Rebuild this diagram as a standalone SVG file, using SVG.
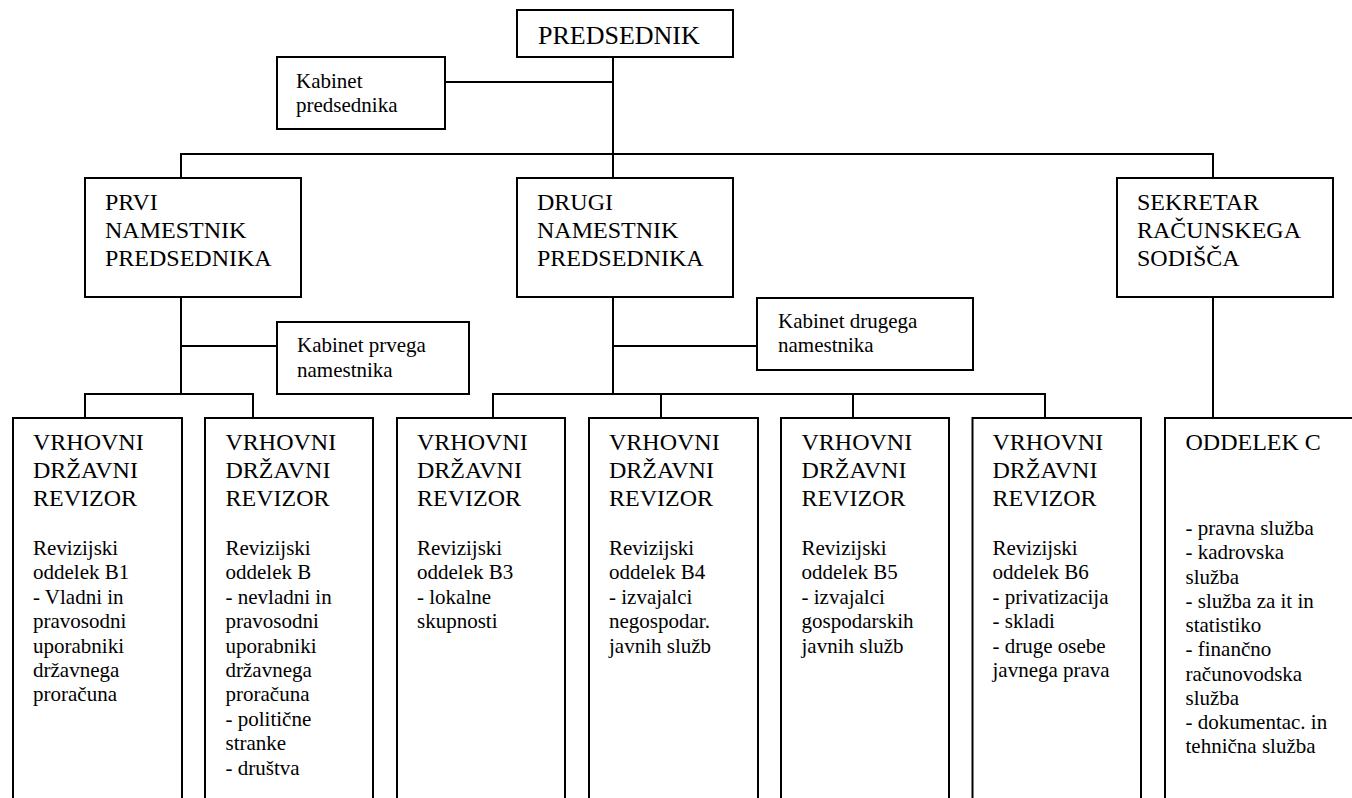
<svg xmlns="http://www.w3.org/2000/svg" width="1352" height="798" viewBox="0 0 1352 798">
<style>
.box{fill:#fff;stroke:#000;stroke-width:2}
.ln{fill:none;stroke:#000;stroke-width:2}
.big{font-size:24px;fill:#000}
.sm{font-size:21px;fill:#000}
.title{font-size:26px;fill:#000}
</style>
<rect width="1352" height="798" fill="#fff"/>
<g id="connectors">
<path class="ln" d="M613,57 V394"/>
<path class="ln" d="M445,82 H613"/>
<path class="ln" d="M181,178 V154 H1213 V178"/>
<path class="ln" d="M181,297 V394"/>
<path class="ln" d="M181,346 H277"/>
<path class="ln" d="M85,418 V394 H253 V418"/>
<path class="ln" d="M613,346 H757"/>
<path class="ln" d="M493,418 V394 H1045 V418"/>
<path class="ln" d="M661,394 V418"/>
<path class="ln" d="M853,394 V418"/>
<path class="ln" d="M1213,297 V418"/>
</g>
<g font-family="Liberation Serif, Tinos, Times New Roman, DejaVu Serif, serif">
<g id="predsednik">
<rect class="box" x="517" y="10" width="216" height="47"/>
<text class="title" x="538" y="44">PREDSEDNIK</text>
</g>
<g id="kabinet-predsednika">
<rect class="box" x="277" y="57" width="168" height="72"/>
<text class="sm" x="296" y="88">Kabinet</text>
<text class="sm" x="296" y="112">predsednika</text>
</g>
<g id="prvi-namestnik">
<rect class="box" x="85" y="178" width="216" height="119"/>
<text class="big" x="105" y="210">PRVI</text>
<text class="big" x="105" y="238">NAMESTNIK</text>
<text class="big" x="105" y="266">PREDSEDNIKA</text>
</g>
<g id="drugi-namestnik">
<rect class="box" x="517" y="178" width="216" height="119"/>
<text class="big" x="537" y="210">DRUGI</text>
<text class="big" x="537" y="238">NAMESTNIK</text>
<text class="big" x="537" y="266">PREDSEDNIKA</text>
</g>
<g id="sekretar">
<rect class="box" x="1117" y="178" width="216" height="119"/>
<text class="big" x="1137" y="210">SEKRETAR</text>
<text class="big" x="1137" y="238">RAČUNSKEGA</text>
<text class="big" x="1137" y="266">SODIŠČA</text>
</g>
<g id="kabinet-prvega">
<rect class="box" x="277" y="322" width="192" height="72"/>
<text class="sm" x="297" y="352">Kabinet prvega</text>
<text class="sm" x="297" y="377">namestnika</text>
</g>
<g id="kabinet-drugega">
<rect class="box" x="757" y="298" width="216" height="72"/>
<text class="sm" x="778" y="328">Kabinet drugega</text>
<text class="sm" x="778" y="352">namestnika</text>
</g>
<g id="b1">
<rect class="box" x="13" y="418" width="169" height="400"/>
<text class="big" x="33" y="450">VRHOVNI</text>
<text class="big" x="33" y="478">DRŽAVNI</text>
<text class="big" x="33" y="506">REVIZOR</text>
<text class="sm" x="33" y="555">Revizijski</text>
<text class="sm" x="33" y="579.4">oddelek B1</text>
<text class="sm" x="33" y="603.8">- Vladni in</text>
<text class="sm" x="33" y="628.2">pravosodni</text>
<text class="sm" x="33" y="652.6">uporabniki</text>
<text class="sm" x="33" y="677">državnega</text>
<text class="sm" x="33" y="701.4">proračuna</text>
</g>
<g id="b2">
<rect class="box" x="205" y="418" width="168" height="400"/>
<text class="big" x="225.5" y="450">VRHOVNI</text>
<text class="big" x="225.5" y="478">DRŽAVNI</text>
<text class="big" x="225.5" y="506">REVIZOR</text>
<text class="sm" x="225.5" y="555">Revizijski</text>
<text class="sm" x="225.5" y="579.4">oddelek B</text>
<text class="sm" x="225.5" y="603.8">- nevladni in</text>
<text class="sm" x="225.5" y="628.2">pravosodni</text>
<text class="sm" x="225.5" y="652.6">uporabniki</text>
<text class="sm" x="225.5" y="677">državnega</text>
<text class="sm" x="225.5" y="701.4">proračuna</text>
<text class="sm" x="225.5" y="725.8">- politične</text>
<text class="sm" x="225.5" y="750.2">stranke</text>
<text class="sm" x="225.5" y="774.6">- društva</text>
</g>
<g id="b3">
<rect class="box" x="397" y="418" width="168" height="400"/>
<text class="big" x="417" y="450">VRHOVNI</text>
<text class="big" x="417" y="478">DRŽAVNI</text>
<text class="big" x="417" y="506">REVIZOR</text>
<text class="sm" x="417" y="555">Revizijski</text>
<text class="sm" x="417" y="579.4">oddelek B3</text>
<text class="sm" x="417" y="603.8">- lokalne</text>
<text class="sm" x="417" y="628.2">skupnosti</text>
</g>
<g id="b4">
<rect class="box" x="589" y="418" width="169" height="400"/>
<text class="big" x="609" y="450">VRHOVNI</text>
<text class="big" x="609" y="478">DRŽAVNI</text>
<text class="big" x="609" y="506">REVIZOR</text>
<text class="sm" x="609" y="555">Revizijski</text>
<text class="sm" x="609" y="579.4">oddelek B4</text>
<text class="sm" x="609" y="603.8">- izvajalci</text>
<text class="sm" x="609" y="628.2">negospodar.</text>
<text class="sm" x="609" y="652.6">javnih služb</text>
</g>
<g id="b5">
<rect class="box" x="781" y="418" width="168" height="400"/>
<text class="big" x="801.5" y="450">VRHOVNI</text>
<text class="big" x="801.5" y="478">DRŽAVNI</text>
<text class="big" x="801.5" y="506">REVIZOR</text>
<text class="sm" x="801.5" y="555">Revizijski</text>
<text class="sm" x="801.5" y="579.4">oddelek B5</text>
<text class="sm" x="801.5" y="603.8">- izvajalci</text>
<text class="sm" x="801.5" y="628.2">gospodarskih</text>
<text class="sm" x="801.5" y="652.6">javnih služb</text>
</g>
<g id="b6">
<rect class="box" x="972.5" y="418" width="168.5" height="400"/>
<text class="big" x="992.5" y="450">VRHOVNI</text>
<text class="big" x="992.5" y="478">DRŽAVNI</text>
<text class="big" x="992.5" y="506">REVIZOR</text>
<text class="sm" x="992.5" y="555">Revizijski</text>
<text class="sm" x="992.5" y="579.4">oddelek B6</text>
<text class="sm" x="992.5" y="603.8">- privatizacija</text>
<text class="sm" x="992.5" y="628.2">- skladi</text>
<text class="sm" x="992.5" y="652.6">- druge osebe</text>
<text class="sm" x="992.5" y="677">javnega prava</text>
</g>
<g id="oddelek-c">
<rect class="box" x="1165" y="418" width="220" height="400"/>
<text class="big" x="1185.5" y="450">ODDELEK C</text>
<text class="sm" x="1185.5" y="535">- pravna služba</text>
<text class="sm" x="1185.5" y="559.3">- kadrovska</text>
<text class="sm" x="1185.5" y="583.5">služba</text>
<text class="sm" x="1185.5" y="607.8">- služba za it in</text>
<text class="sm" x="1185.5" y="632">statistiko</text>
<text class="sm" x="1185.5" y="656.3">- finančno</text>
<text class="sm" x="1185.5" y="680.6">računovodska</text>
<text class="sm" x="1185.5" y="704.8">služba</text>
<text class="sm" x="1185.5" y="729">- dokumentac. in</text>
<text class="sm" x="1185.5" y="753.3">tehnična služba</text>
</g>
</g>
</svg>
